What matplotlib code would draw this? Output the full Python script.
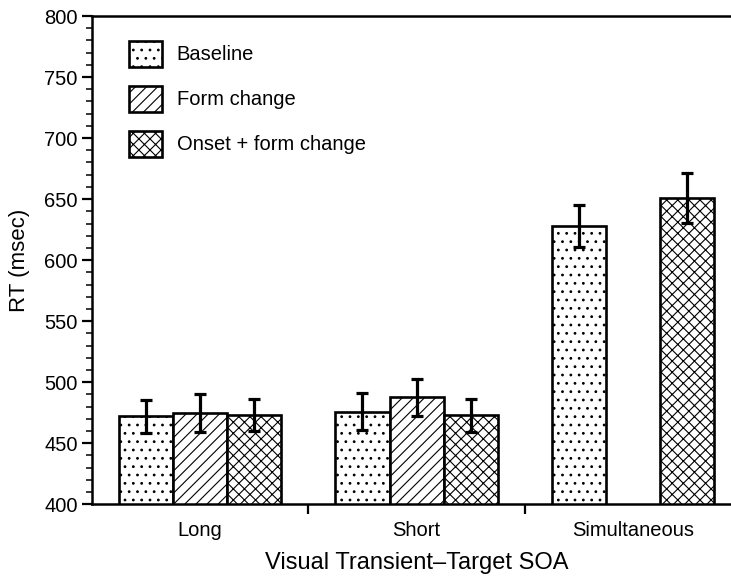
import numpy as np
import matplotlib
matplotlib.use("Agg")
import matplotlib.pyplot as plt
from matplotlib.ticker import MultipleLocator, FixedLocator

plt.rcParams['font.family'] = ['Liberation Sans', 'DejaVu Sans']
plt.rcParams['hatch.linewidth'] = 0.8

# data
groups = ['Long', 'Short', 'Simultaneous']
series = ['Baseline', 'Form change', 'Onset + form change']
means = {
    'Baseline': [472, 476, 628],
    'Form change': [475, 487.5, np.nan],
    'Onset + form change': [473, 473, 651],
}
errs = {
    'Baseline': [13.5, 15, 17],
    'Form change': [15.5, 15.5, np.nan],
    'Onset + form change': [13, 13.5, 20.5],
}
hatches = ['..', '///', 'xxx']

fig = plt.figure(figsize=(7.31, 5.79), dpi=100)
W, H = 731, 579
ax = fig.add_axes([91.7 / W, 1 - 504.3 / H, (741.5 - 91.7) / W, (504.3 - 16.0) / H])

x = np.arange(len(groups))
width = 0.25
for i, s in enumerate(series):
    pos = x + (i - 1) * width
    ax.bar(pos, means[s], width, bottom=0, color='white', edgecolor='black',
           linewidth=1.9, hatch=hatches[i], label=s, zorder=2)
    ax.errorbar(pos, means[s], yerr=errs[s], fmt='none', ecolor='black',
                elinewidth=2.3, capsize=4, capthick=2.3, zorder=3)

ax.set_ylim(400, 800)
ax.set_xlim(-0.5, 2.5)
ax.yaxis.set_major_locator(MultipleLocator(50))
ax.yaxis.set_minor_locator(MultipleLocator(10))
ax.set_xticks(x)
ax.set_xticklabels(groups)
ax.xaxis.set_minor_locator(FixedLocator([0.5, 1.5]))

ax.tick_params(axis='y', which='major', direction='out', length=7, width=1.6, labelsize=14.5, pad=3)
ax.tick_params(axis='y', which='minor', direction='out', length=4, width=1.1)
ax.tick_params(axis='x', which='major', length=0, labelsize=14.5, pad=12)
ax.tick_params(axis='x', which='minor', direction='out', length=7, width=1.6)

for side in ['left', 'bottom', 'top']:
    ax.spines[side].set_linewidth(1.8)
ax.spines['right'].set_visible(False)

ax.set_ylabel('RT (msec)', fontsize=16, labelpad=10)
ax.set_xlabel('Visual Transient\u2013Target SOA', fontsize=17, labelpad=9)

leg = ax.legend(loc='upper left', bbox_to_anchor=(129.3 / W, 1 - 40.7 / H),
                bbox_transform=fig.transFigure, frameon=False, fontsize=14.5,
                handlelength=1.6, handleheight=1.6, labelspacing=0.95,
                handletextpad=0.75, borderpad=0, borderaxespad=0)

fig.savefig('out.png', dpi=100)
